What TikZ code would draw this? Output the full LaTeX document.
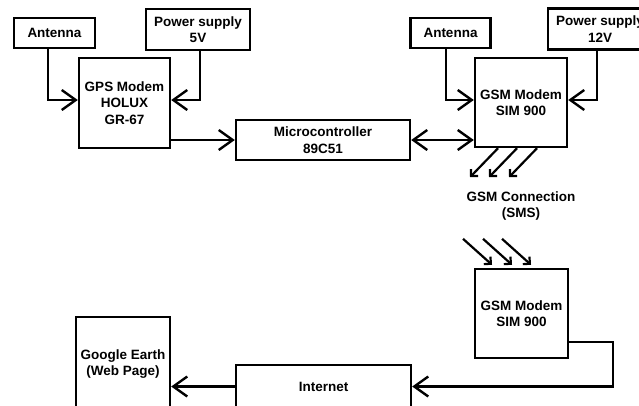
\documentclass[tikz,border=0pt]{standalone}
\usepackage{fontspec}
\setmainfont{Liberation Sans}
\usetikzlibrary{arrows.meta,calc}
\begin{document}
\begin{tikzpicture}[x=1pt,y=-1pt,
  blk/.style={draw,line width=2.4pt,inner sep=0pt,align=center,
    font=\bfseries\fontsize{13.5}{16.5}\selectfont},
  lbl/.style={inner sep=0pt,align=center,font=\bfseries\fontsize{13.5}{16.5}\selectfont},
  arr/.style={line width=2.4pt,-{Straight Barb[length=14pt,width=20pt,line width=2.4pt]}},
  arrb/.style={line width=2.4pt,{Straight Barb[length=14pt,width=20pt,line width=2.4pt]}-{Straight Barb[length=14pt,width=20pt,line width=2.4pt]}},
  sarr/.style={line width=2.2pt,-{Straight Barb[length=5pt,width=10pt,line width=2.2pt]}}]
\useasboundingbox (0,0) rectangle (639,405);
\clip (0,0) rectangle (639,405);
\fill[white] (0,0) rectangle (639,405);
% nodes
\node[blk,minimum width=81pt,minimum height=30pt] (antL) at (54.5,33) {Antenna};
\node[blk,minimum width=104pt,minimum height=41pt] (psL) at (198,29.5) {Power supply\\5V};
\node[blk,minimum width=91pt,minimum height=90pt] (gps) at (124.5,103) {GPS Modem\\HOLUX\\GR-67};
\node[blk,minimum width=174pt,minimum height=40pt] (micro) at (323,140) {Microcontroller\\89C51};
\node[blk,minimum width=92pt,minimum height=89pt] (gsmA) at (521,102.5) {GSM Modem\\SIM 900};
\node[blk,minimum width=80pt,minimum height=30pt] (antR) at (450.5,33) {Antenna};
\node[blk,minimum width=104pt,minimum height=41pt] (psR) at (600,29) {Power supply\\12V};
\node[lbl] (conn) at (521,206) {GSM Connection\\(SMS)};
\node[blk,minimum width=93pt,minimum height=89pt] (gsmB) at (521.5,313.5) {GSM Modem\\SIM 900};
\node[blk,minimum width=175pt,minimum height=43pt] (inet) at (323.5,386.5) {Internet};
\node[blk,minimum width=94pt,minimum height=94pt] (ge) at (123,364) {Google Earth\\(Web Page)};
% connectors
\draw[arr] ([xshift=-6.5pt]antL.south) |- ([yshift=3pt]gps.west);
\draw[arr] ([xshift=2pt]psL.south) |- ([yshift=3pt]gps.east);
\draw[arr] (gps.east |- micro.west) -- (micro.west);
\draw[arrb] (micro.east) -- (micro.east -| gsmA.west);
\draw[arr] ([xshift=-4.5pt]antR.south) |- ([yshift=2.5pt]gsmA.west);
\draw[arr] ([xshift=-3pt]psR.south) |- ([yshift=2.5pt]gsmA.east);
\foreach \dx in {-23,-4,16}
  \draw[sarr] ([xshift=\dx pt]gsmA.south) -- ++(-28,29);
\foreach \dx in {-29.5,-9.5,9.5}
  \draw[sarr] ($(gsmB.north)+(\dx-29,-29)$) -- ($(gsmB.north)+(\dx,-3)$);
\draw[arr] ([yshift=-28.5pt]gsmB.east) -| ($(inet.east)+(201,0)$) -- (inet.east);
\draw[arr] (inet.west) -- (ge.east |- inet.west);
\end{tikzpicture}
\end{document}
